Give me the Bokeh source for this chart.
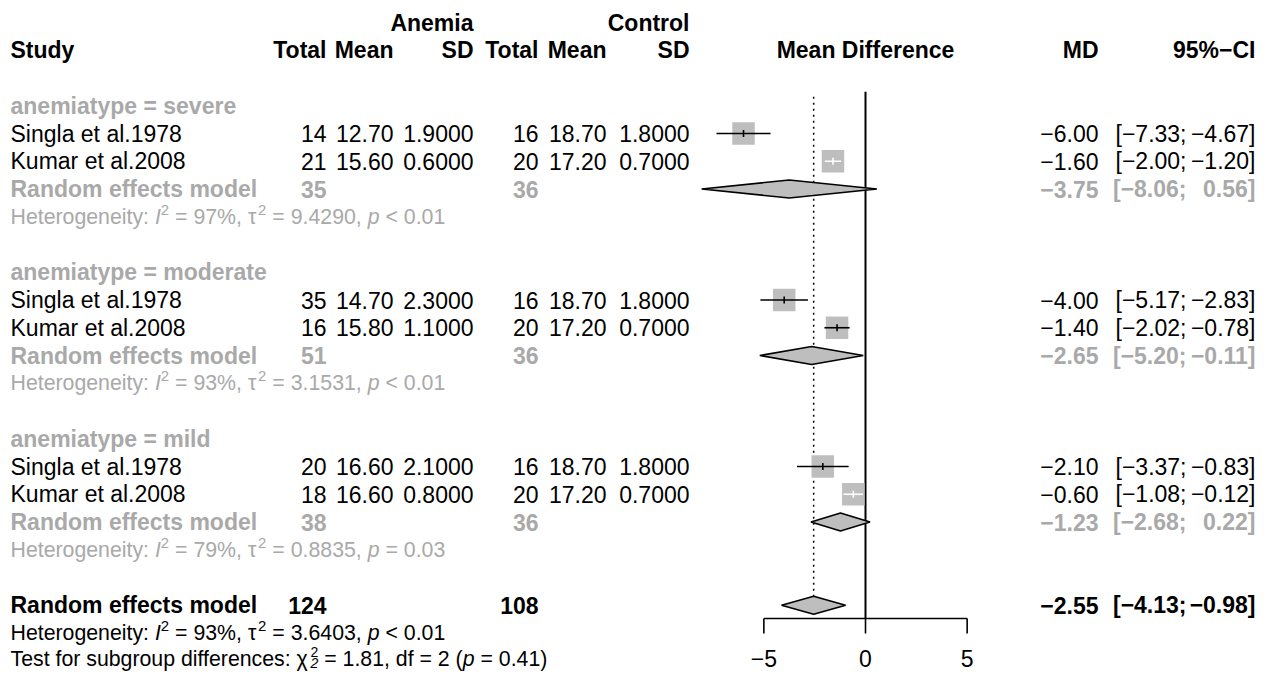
from bokeh.plotting import figure
from bokeh.models import Range1d
from bokeh.core.properties import value
from bokeh.embed import file_html
from bokeh.resources import INLINE

# ---------------- data ----------------
subgroups = ["severe", "moderate", "mild"]
studies = ["Singla et al.1978", "Kumar et al.2008",
           "Singla et al.1978", "Kumar et al.2008",
           "Singla et al.1978", "Kumar et al.2008"]
n_e = [14, 21, 35, 16, 20, 18]
mean_e = [12.70, 15.60, 14.70, 15.80, 16.60, 16.60]
sd_e = [1.9, 0.6, 2.3, 1.1, 2.1, 0.8]
n_c = [16, 20, 16, 20, 16, 20]
mean_c = [18.70, 17.20, 18.70, 17.20, 18.70, 17.20]
sd_c = [1.8, 0.7, 1.8, 0.7, 1.8, 0.7]
md = [-6.00, -1.60, -4.00, -1.40, -2.10, -0.60]
ci_low = [-7.33, -2.00, -5.17, -2.02, -3.37, -1.08]
ci_up = [-4.67, -1.20, -2.83, -0.78, -0.83, -0.12]

sub_n_e = [35, 51, 38]
sub_n_c = [36, 36, 36]
sub_md = [-3.75, -2.65, -1.23]
sub_low = [-8.06, -5.20, -2.68]
sub_up = [0.56, -0.11, 0.22]
sub_i2 = ["97%", "93%", "79%"]
sub_tau2 = ["9.4290", "3.1531", "0.8835"]
sub_p = ["< 0.01", "< 0.01", "= 0.03"]

ov_n_e, ov_n_c = 124, 108
ov_md, ov_low, ov_up = -2.55, -4.13, -0.98
ov_i2, ov_tau2, ov_p = "93%", "3.6403", "< 0.01"
test_chi2, test_df, test_p = "1.81", "2", "0.41"

ticks = [-5, 0, 5]

# ---------------- layout ----------------
W, H = 1266, 673
FONT = "Liberation Sans"
FS = 23
FS_HET = 21.3
GREY = "#A9A9A9"
SQ = "#BEBEBE"
X0_PX, PX_PER = 865.0, 20.33


def row(i):
    return 22 + 27.75 * i


def fmt(v, d=2):
    return f"{v:.{d}f}".replace("-", "\u2212")


p = figure(width=W, height=H, x_range=Range1d(0, W), y_range=Range1d(H, 0),
           output_backend="svg", toolbar_location=None,
           x_axis_location=None, y_axis_location=None,
           min_border=0, outline_line_color=None)
p.xgrid.visible = False
p.ygrid.visible = False
p.extra_x_ranges = {"md": Range1d(-X0_PX / PX_PER, (W - X0_PX) / PX_PER)}


def txt(xs, ys, texts, align="left", bold=False, italic=False, color="black", size=FS):
    style = "bold" if bold else ("italic" if italic else "normal")
    p.text(x=xs, y=ys, text=texts, text_align=align, text_baseline="middle",
           text_font=value(FONT), text_font_size=value(f"{size}px"),
           text_font_style=value(style), text_color=color)


# Arial / Liberation Sans advance widths (per 1000 em)
MET = {' ': 278, '%': 889, '(': 333, ')': 333, ',': 278, '.': 278, ':': 278, ';': 278,
       '<': 584, '=': 584, '\u00b2': 333, '\u03c4': 480, '\u03c7': 520,
       'H': 722, 'I': 278, 'T': 611,
       'a': 556, 'b': 556, 'c': 500, 'd': 556, 'e': 556, 'f': 278, 'g': 556, 'i': 222,
       'n': 556, 'o': 556, 'p': 556, 'r': 333, 's': 500, 't': 278, 'u': 556, 'y': 500}
for ch in "0123456789":
    MET[ch] = 556


def tw(s, size):
    return sum(MET.get(c, 556) for c in s) * size / 1000.0


def rich(x, y, parts, color, size):
    cur = x
    for s, style in parts:
        lead = len(s) - len(s.lstrip(' '))
        cur += tw(s[:lead], size)
        body = s.lstrip(' ')
        if style == "sup":
            txt([cur], [y - 7], [body], size=size * 0.7, color=color)
            cur += tw(body, size * 0.7)
        elif style == "supsub":
            txt([cur], [y - 7], [body], size=size * 0.66, color=color)
            txt([cur], [y + 4.5], [body], size=size * 0.66, color=color, italic=True)
            cur += tw(body, size * 0.66)
        else:
            txt([cur], [y], [body], italic=(style == "italic"), color=color, size=size)
            cur += tw(body, size)


# column right edges
C_TE, C_ME, C_SE = 326, 393, 473
C_TC, C_MC, C_SC = 538, 606, 689
C_MD, C_CI, C_SEMI = 1098, 1255, 1186

# headers
txt([C_SE, C_SC], [row(0), row(0)], ["Anemia", "Control"], align="right", bold=True)
txt([10], [row(1)], ["Study"], bold=True)
txt([C_TE, C_ME, C_SE, C_TC, C_MC, C_SC, C_MD, C_CI], [row(1)] * 8,
    ["Total", "Mean", "SD", "Total", "Mean", "SD", "MD", "95%\u2212CI"], align="right", bold=True)
txt([X0_PX], [row(1)], ["Mean Difference"], align="center", bold=True)

study_y = []
for k, sg in enumerate(subgroups):
    base = 3 + 6 * k
    txt([10], [row(base)], [f"anemiatype = {sg}"], bold=True, color=GREY)
    for j in range(2):
        study_y.append(row(base + 1 + j))
    # subgroup summary
    ys = row(base + 3)
    txt([10], [ys], ["Random effects model"], bold=True, color=GREY)
    txt([C_TE, C_TC, C_MD], [ys] * 3, [str(sub_n_e[k]), str(sub_n_c[k]), fmt(sub_md[k])],
        align="right", bold=True, color=GREY)
    txt([C_SEMI, C_CI], [ys] * 2, ["[" + fmt(sub_low[k]) + ";", fmt(sub_up[k]) + "]"],
        align="right", bold=True, color=GREY)
    rich(10, row(base + 4),
         [("Heterogeneity: ", "n"), ("I", "italic"), ("2", "sup"),
          (f" = {sub_i2[k]}, \u03c4", "n"), ("2", "sup"), (f" = {sub_tau2[k]}, ", "n"),
          ("p", "italic"), (" " + sub_p[k], "n")], GREY, FS_HET)

# study rows text
txt([10] * 6, study_y, studies)
txt([C_TE] * 6, study_y, [str(v) for v in n_e], align="right")
txt([C_ME] * 6, study_y, [fmt(v) for v in mean_e], align="right")
txt([C_SE] * 6, study_y, [fmt(v, 4) for v in sd_e], align="right")
txt([C_TC] * 6, study_y, [str(v) for v in n_c], align="right")
txt([C_MC] * 6, study_y, [fmt(v) for v in mean_c], align="right")
txt([C_SC] * 6, study_y, [fmt(v, 4) for v in sd_c], align="right")
txt([C_MD] * 6, study_y, [fmt(v) for v in md], align="right")
txt([C_SEMI] * 6, study_y, ["[" + fmt(v) + ";" for v in ci_low], align="right")
txt([C_CI] * 6, study_y, [fmt(v) + "]" for v in ci_up], align="right")

# overall
yo = row(21)
txt([10], [yo], ["Random effects model"], bold=True)
txt([C_TE, C_TC, C_MD], [yo] * 3, [str(ov_n_e), str(ov_n_c), fmt(ov_md)], align="right", bold=True)
txt([C_SEMI, C_CI], [yo] * 2, ["[" + fmt(ov_low) + ";", fmt(ov_up) + "]"], align="right", bold=True)
rich(10, row(22),
     [("Heterogeneity: ", "n"), ("I", "italic"), ("2", "sup"),
      (f" = {ov_i2}, \u03c4", "n"), ("2", "sup"), (f" = {ov_tau2}, ", "n"),
      ("p", "italic"), (" " + ov_p, "n")], "black", FS_HET)
rich(10, row(23) - 2,
     [("Test for subgroup differences: \u03c7", "n"), ("2", "supsub"),
      (f" = {test_chi2}, df = {test_df} (", "n"), ("p", "italic"), (f" = {test_p})", "n")],
     "black", FS_HET)

# ---------------- forest graphics ----------------
top = row(3) - 14
axis_y = 618
# reference lines
p.segment(x0=[0], x1=[0], y0=[top], y1=[axis_y], line_color="black", line_width=2, x_range_name="md")
p.segment(x0=[ov_md], x1=[ov_md], y0=[top + 5], y1=[yo - 9], line_color="black",
          line_width=1.5, line_dash="2 4", x_range_name="md")

# squares
SQ_SIZE = 22.5
p.scatter(x=md, y=study_y, marker="square", size=SQ_SIZE, fill_color=SQ, line_color=None,
          x_range_name="md")
ci_col = ["white" if (u - l) * PX_PER <= SQ_SIZE else "black" for l, u in zip(ci_low, ci_up)]
p.segment(x0=ci_low, x1=ci_up, y0=study_y, y1=study_y, line_color=ci_col, line_width=1.6,
          x_range_name="md")
p.segment(x0=md, x1=md, y0=[y - 3.5 for y in study_y], y1=[y + 3.5 for y in study_y],
          line_color=ci_col, line_width=1.6, x_range_name="md")

# diamonds
DH = 9
d_md = sub_md + [ov_md]
d_low = sub_low + [ov_low]
d_up = sub_up + [ov_up]
d_y = [row(6 + 6 * k) for k in range(3)] + [yo]
p.patches(xs=[[l, m, u, m] for l, m, u in zip(d_low, d_md, d_up)],
          ys=[[y, y - DH, y, y + DH] for y in d_y],
          fill_color=SQ, line_color="black", line_width=1.6, x_range_name="md")

# axis
p.segment(x0=[min(ticks)], x1=[max(ticks)], y0=[axis_y], y1=[axis_y], line_color="black",
          line_width=1.6, x_range_name="md")
p.segment(x0=ticks, x1=ticks, y0=[axis_y] * len(ticks), y1=[axis_y + 15] * len(ticks),
          line_color="black", line_width=1.6, x_range_name="md")
p.text(x=ticks, y=[658] * len(ticks), text=[fmt(t, 0) for t in ticks], text_align="center",
       text_baseline="middle", text_font=value(FONT), text_font_size=value(f"{FS}px"),
       text_color="black", x_range_name="md")

open("out.html", "w").write(file_html(p, INLINE))
